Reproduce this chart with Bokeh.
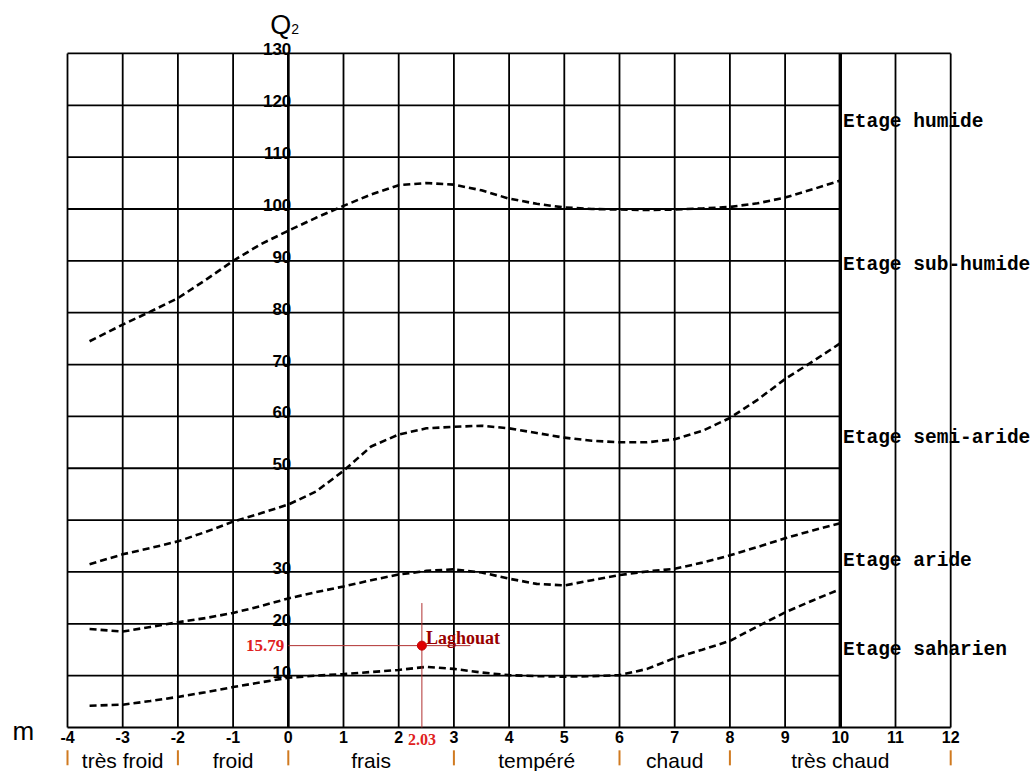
from bokeh.plotting import figure
from bokeh.models import Range1d
from bokeh.core.properties import value
from bokeh.embed import file_html
from bokeh.resources import INLINE

# ---------------- data ----------------
m_ticks = list(range(-4, 13))                     # x axis ticks (m, °C)
q2_grid = list(range(0, 131, 10))                 # horizontal grid levels
q2_labels = [130, 120, 110, 100, 90, 80, 70, 60, 50, 30, 20, 10]

curve_x = [-3.6, -3, -2.5, -2, -1.5, -1, -0.5, 0, 0.5, 1, 1.5, 2, 2.5, 3, 3.5,
           4, 4.5, 5, 5.5, 6, 6.5, 7, 7.5, 8, 8.5, 9, 9.5, 10]
humide_subhumide = [74.5, 77.7, 80.2, 82.8, 86.3, 90, 93.2, 95.8, 98.3, 100.6, 102.8, 104.6,
                    105, 104.7, 103.6, 102, 101, 100.3, 100, 99.9, 99.8, 99.9, 100.1, 100.4,
                    101.1, 102.2, 103.8, 105.5]
subhumide_semiaride = [31.5, 33.4, 34.6, 35.9, 37.7, 39.7, 41.3, 43.0, 45.5, 49.5, 54.2, 56.5,
                       57.7, 58.0, 58.2, 57.7, 56.8, 55.9, 55.3, 55.0, 55.0, 55.6, 57.2, 59.7,
                       63.2, 67.2, 70.6, 74.1]
semiaride_aride = [19.0, 18.5, 19.4, 20.3, 21.1, 22.1, 23.4, 24.9, 26.1, 27.2, 28.4, 29.5,
                   30.2, 30.5, 29.9, 28.7, 27.7, 27.4, 28.4, 29.4, 30.1, 30.6, 31.8, 33.2,
                   34.8, 36.5, 38.0, 39.4]
aride_saharien = [4.2, 4.4, 5.1, 5.9, 6.8, 7.8, 8.7, 9.6, 10.0, 10.3, 10.7, 11.1, 11.7, 11.3,
                  10.6, 10.1, 9.9, 9.8, 9.9, 10.1, 11.3, 13.4, 15.0, 16.7, 19.5, 22.2, 24.5, 26.7]

etage_names = ["Etage humide", "Etage sub-humide", "Etage semi-aride", "Etage aride", "Etage saharien"]
etage_q2 = [116.7, 89.2, 55.8, 32.1, 14.9]

class_bounds = [-4, -2, 0, 3, 6, 8, 12]
class_names = ["très froid", "froid", "frais", "tempéré", "chaud", "très chaud"]

station_name = "Laghouat"
station_m_label = "2.03"
station_q2_label = "15.79"
station_m_drawn = 2.42      # where the point is drawn in the reference
station_q2 = 15.79

# ---------------- figure ----------------
W, H = 1032, 771
XMIN, XMAX = -5.2138, 13.4819
YMIN, YMAX = -8.486, 140.212
p = figure(width=W, height=H, output_backend="svg", toolbar_location=None,
           x_range=Range1d(XMIN, XMAX), y_range=Range1d(YMIN, YMAX),
           min_border=0, min_border_left=0, min_border_right=0,
           min_border_top=0, min_border_bottom=0)
p.xaxis.visible = False
p.yaxis.visible = False
p.xgrid.visible = False
p.ygrid.visible = False
p.outline_line_color = None
p.background_fill_color = "white"
p.border_fill_color = "white"

# vertical grid lines
vx = [x for x in m_ticks]
p.segment(x0=vx, y0=[0] * len(vx), x1=vx, y1=[130] * len(vx), line_color="black", line_width=1.8)
# horizontal grid lines
hx1 = [12 if (q == 0 or q == 130) else 10 for q in q2_grid]
p.segment(x0=[-4] * len(q2_grid), y0=q2_grid, x1=hx1, y1=q2_grid, line_color="black", line_width=1.8)
# Q2 axis (m=0) and the thick limit at m=10
p.segment(x0=[0], y0=[0], x1=[0], y1=[130], line_color="black", line_width=2.6)
p.segment(x0=[10], y0=[0], x1=[10], y1=[130], line_color="black", line_width=3.4)

# dashed boundaries
for ys in [humide_subhumide, subhumide_semiaride, semiaride_aride, aride_saharien]:
    p.line(curve_x, ys, line_color="black", line_width=2.6, line_dash="7 4")

# y tick labels
p.text(x=[0] * len(q2_labels), y=q2_labels, text=[str(v) for v in q2_labels],
       text_align="right", text_baseline="middle", x_offset=3, y_offset=-4,
       text_font=value("Liberation Sans"), text_font_style="bold", text_font_size="17px",
       text_color="black")

# x tick labels
p.text(x=m_ticks, y=[-1.9] * len(m_ticks), text=[str(v) for v in m_ticks],
       text_align="center", text_baseline="middle",
       text_font=value("Liberation Sans"), text_font_style="bold", text_font_size="16px",
       text_color="black")

# axis names
p.text(x=[0], y=[YMAX], text=["Q"], text_align="left", text_baseline="top",
       x_offset=-18, y_offset=9, text_font=value("Liberation Sans"), text_font_size="27px",
       text_color="black")
p.text(x=[0], y=[YMAX], text=["2"], text_align="left", text_baseline="top",
       x_offset=3, y_offset=23, text_font=value("Liberation Sans"), text_font_size="14px",
       text_color="black")
p.text(x=[XMIN], y=[0], text=["m"], text_align="left", text_baseline="middle",
       x_offset=12, y_offset=3, text_font=value("Liberation Sans"), text_font_size="26px",
       text_color="black")

# étage labels
p.text(x=[10.05] * len(etage_names), y=etage_q2, text=etage_names,
       text_align="left", text_baseline="middle",
       text_font=value("Liberation Mono"), text_font_style="bold", text_font_size="19.5px",
       text_color="black")

# climate classes along m
p.segment(x0=class_bounds, y0=[-4.4] * len(class_bounds), x1=class_bounds,
          y1=[-7.3] * len(class_bounds), line_color="#D07A20", line_width=2)
centers = [(class_bounds[i] + class_bounds[i + 1]) / 2 for i in range(len(class_names))]
p.text(x=centers, y=[-6.4] * len(centers), text=class_names,
       text_align="center", text_baseline="middle",
       text_font=value("Liberation Sans"), text_font_size="21px", text_color="black")

# station crosshair
p.segment(x0=[0], y0=[station_q2], x1=[3.3], y1=[station_q2], line_color="#B03030", line_width=1)
p.segment(x0=[station_m_drawn], y0=[0], x1=[station_m_drawn], y1=[24], line_color="#B03030", line_width=1)
p.scatter(x=[station_m_drawn], y=[station_q2], size=9, fill_color="#E00000", line_color="#C00000")
p.text(x=[station_m_drawn], y=[station_q2], text=[station_name], text_align="left",
       text_baseline="middle", x_offset=4, y_offset=-8,
       text_font=value("Liberation Serif"), text_font_style="bold", text_font_size="18px",
       text_color="#990000")
p.text(x=[0], y=[station_q2], text=[station_q2_label], text_align="right",
       text_baseline="middle", x_offset=-4,
       text_font=value("Liberation Serif"), text_font_style="bold", text_font_size="17px",
       text_color="#E02020")
p.text(x=[station_m_drawn], y=[-1.9], text=[station_m_label], text_align="center",
       text_baseline="middle", y_offset=2,
       text_font=value("Liberation Serif"), text_font_style="bold", text_font_size="16px",
       text_color="#E02020")

open("out.html", "w").write(file_html(p, INLINE))
